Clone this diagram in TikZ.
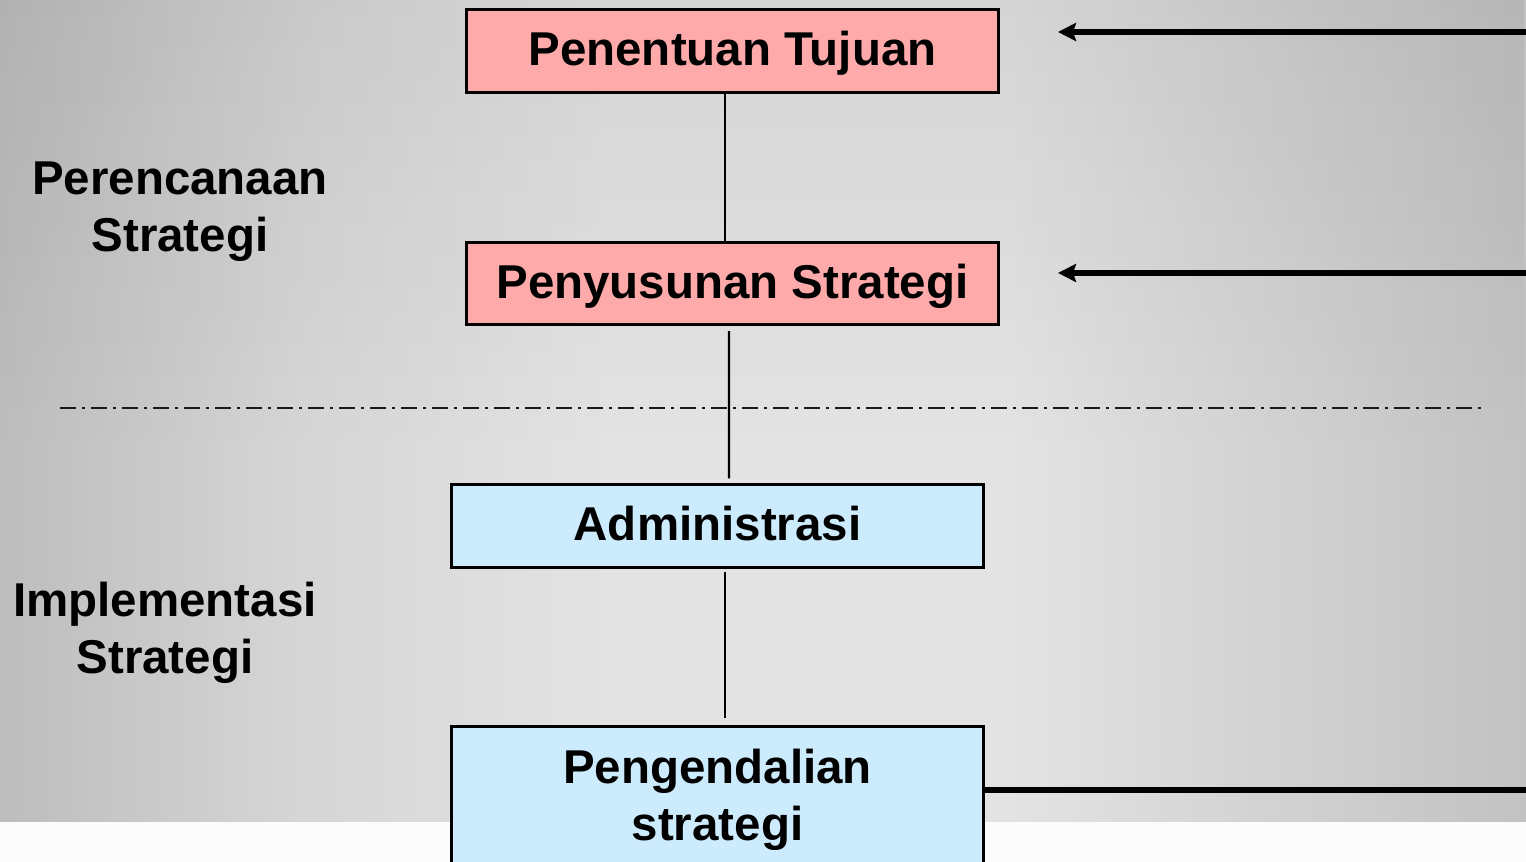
\documentclass[tikz,border=0pt]{standalone}
\usepackage{fontspec}
\setmainfont{Liberation Sans}
\usetikzlibrary{arrows.meta,positioning,calc,fadings}
\definecolor{planfill}{HTML}{FFAAAA}
\definecolor{implfill}{HTML}{CCEBFC}
\definecolor{bgedge}{HTML}{BDBDBD}
\definecolor{bgmid}{HTML}{D6D6D6}
\definecolor{bglight}{HTML}{E3E3E3}
\definecolor{bgright}{HTML}{C2C2C2}
\pgfdeclarehorizontalshading{bgshade}{100bp}{color(0bp)=(bgedge); color(25bp)=(bgedge);
 color(35bp)=(bgmid); color(45bp)=(bglight); color(58bp)=(bglight); color(75bp)=(bgright); color(100bp)=(bgright)}
\tikzset{stagebox/.style={draw=black,line width=0.85pt,minimum width=5.31cm,minimum height=0.82cm,
 inner sep=0pt,align=center,font=\fontsize{13.5}{16.2}\selectfont\bfseries},
 planbox/.style={stagebox,fill=planfill,text height=10.5pt,text depth=2pt},
 implbox/.style={stagebox,fill=implfill},
 sidelabel/.style={inner sep=0pt,align=center,font=\fontsize{13.5}{16.2}\selectfont\bfseries},
 link/.style={draw=black,line width=0.6pt},
 feedarrow/.style={-{Stealth[length=0.18cm,width=0.18cm,inset=0.03cm]},draw=black,line width=1.45pt}}
\begin{document}
\begin{tikzpicture}[x=0.01cm,y=-0.01cm,
 divider/.style={draw=black!90,line width=0.7pt,dash pattern=on 0.16cm off 0.06cm on 0.03cm off 0.06cm}]
\useasboundingbox (0,0) rectangle (1526,862);
% background
\shade[shading=bgshade] (0,0) rectangle (1526,822);
\fill[black,fill opacity=0.06,path fading=south] (0,0) rectangle (1526,450);
\fill[white!99!black] (0,822) rectangle (1526,862);
% stages
\node[planbox] (tujuan) at (732.5,51) {Penentuan Tujuan};
\node[planbox] (strategi) at (732.5,283.5) {Penyusunan Strategi};
\node[implbox,text height=10.5pt,text depth=2pt] (admin) at (717.5,526) {Administrasi};
\node[implbox,minimum height=1.45cm] (kendali) at (717.5,799.5) {Pengendalian\\strategi};
\node[sidelabel] (perencanaan) at (180,212) {Perencanaan\\Strategi};
\node[sidelabel] (implementasi) at (165,633) {Implementasi\\Strategi};
% feedback
\coordinate (fb1) at (1526,32); \coordinate (fe1) at (1058,32);
\coordinate (fb2) at (1526,273); \coordinate (fe2) at (1058,273);
\coordinate (fb3) at (1526,790);
\coordinate (divl) at (60,408); \coordinate (divr) at (1482,408);
\draw[divider] (divl)--(divr);
\draw[link] ([xshift=-0.075cm]tujuan.south)--([xshift=-0.075cm]strategi.north);
\draw[link] ([xshift=-0.035cm,yshift=-0.05cm]strategi.south)--([xshift=0.115cm,yshift=0.05cm]admin.north);
\draw[link] ([xshift=0.075cm,yshift=-0.03cm]admin.south)--([xshift=0.075cm,yshift=0.07cm]kendali.north);
\draw[feedarrow] (fb1)--(fe1);\draw[feedarrow] (fb2)--(fe2);
\draw[link,line width=1.45pt] (kendali.east |- fb3)--(fb3);
\end{tikzpicture}
\end{document}
